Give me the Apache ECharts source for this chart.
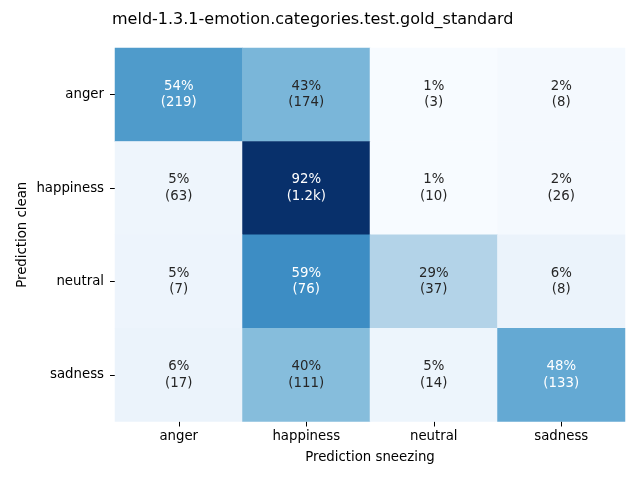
<!DOCTYPE html>
<html>
<head>
<meta charset="utf-8">
<script src="https://cdn.jsdelivr.net/npm/echarts@6/dist/echarts.min.js"></script>
<style>html,body{margin:0;padding:0;background:#fff}#c{width:640px;height:480px}</style>
</head>
<body>
<div id="c"></div>
<script>
const titleText = "meld-1.3.1-emotion.categories.test.gold_standard";
const xCategories = ["anger", "happiness", "neutral", "sadness"];
const yCategories = ["anger", "happiness", "neutral", "sadness"];
const xName = "Prediction sneezing";
const yName = "Prediction clean";
// row-normalised percentages (rows = yCategories, cols = xCategories)
const pctAnger     = [54.2, 43.1, 0.7, 2.0];
const pctHappiness = [5.0, 92.1, 0.8, 2.1];
const pctNeutral   = [5.4, 59.4, 28.9, 6.2];
const pctSadness   = [6.2, 40.4, 5.1, 48.4];
// raw counts
const cntAnger     = [219, 174, 3, 8];
const cntHappiness = [63, 1158, 10, 26];
const cntNeutral   = [7, 76, 37, 8];
const cntSadness   = [17, 111, 14, 133];

const pctRows = [pctAnger, pctHappiness, pctNeutral, pctSadness];
const cntRows = [cntAnger, cntHappiness, cntNeutral, cntSadness];

const blues = ["#f7fbff","#deebf7","#c6dbef","#9ecae1","#6baed6","#4292c6","#2171b5","#08519c","#08306b"];

function fmtCount(n){ return n >= 1000 ? (n/1000).toFixed(1) + "k" : String(n); }

const data = [];
let vmin = Infinity, vmax = -Infinity;
pctRows.forEach((row, yi) => row.forEach((v, xi) => {
  vmin = Math.min(vmin, v); vmax = Math.max(vmax, v);
  data.push({
    value: [xi, yi, v, cntRows[yi][xi]],
    label: { color: v > 45 ? "#ffffff" : "#262626" }
  });
}));

const chart = echarts.init(document.getElementById("c"), null, {renderer: "canvas"});
const font = "DejaVu Sans";
chart.setOption({
  animation: false,
  backgroundColor: "#ffffff",
  title: {
    text: titleText, left: 107, top: 7,
    textStyle: { fontFamily: font, fontSize: 16, fontWeight: "normal", color: "#000" }
  },
  grid: { left: 115, right: 15, top: 48, bottom: 58.5 },
  visualMap: { show: false, min: vmin, max: vmax, dimension: 2, inRange: { color: blues } },
  xAxis: {
    type: "category", data: xCategories, position: "bottom",
    name: xName, nameLocation: "middle", nameGap: 30, nameMoveOverlap: false,
    nameTextStyle: { fontFamily: font, fontSize: 13.3, color: "#000", verticalAlign: "top" },
    axisLine: { show: false },
    axisTick: { show: true, alignWithLabel: true, length: 5, lineStyle: { color: "#000", width: 1 } },
    axisLabel: { fontFamily: font, fontSize: 13.3, color: "#000", margin: 9 },
    splitLine: { show: false }
  },
  yAxis: {
    type: "category", data: yCategories, inverse: true,
    name: yName, nameLocation: "middle", nameGap: 86, nameRotate: 90, nameMoveOverlap: false,
    nameTextStyle: { fontFamily: font, fontSize: 13.3, color: "#000" },
    axisLine: { show: false },
    axisTick: { show: true, alignWithLabel: true, length: 5, lineStyle: { color: "#000", width: 1 } },
    axisLabel: { fontFamily: font, fontSize: 13.3, color: "#000", margin: 11 },
    splitLine: { show: false }
  },
  series: [{
    type: "heatmap",
    data: data,
    itemStyle: { borderWidth: 0 },
    label: {
      show: true,
      fontFamily: font, fontSize: 13.3, lineHeight: 16.5,
      formatter: p => Math.round(p.value[2]) + "%\n(" + fmtCount(p.value[3]) + ")"
    },
    emphasis: { disabled: true }
  }]
});
</script>
</body>
</html>
